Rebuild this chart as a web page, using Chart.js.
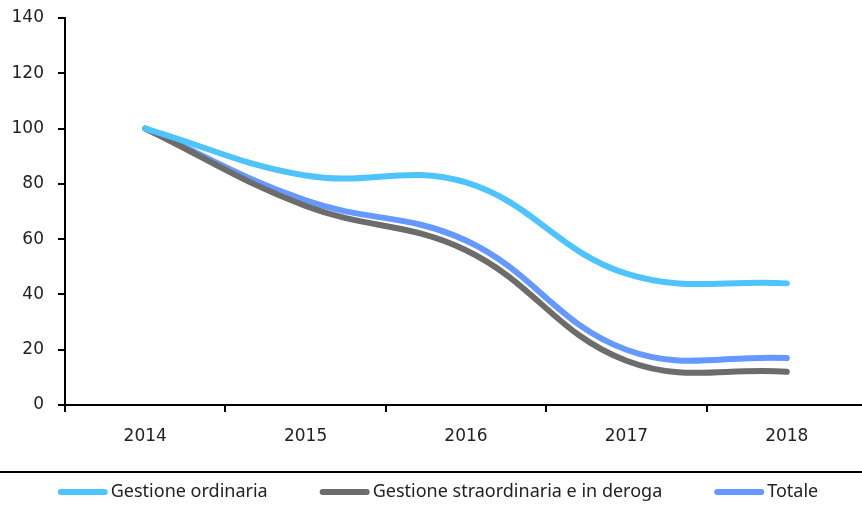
<!DOCTYPE html>
<html>
<head>
<meta charset="utf-8">
<script src="https://cdn.jsdelivr.net/npm/chart.js@4"></script>
<style>
  html, body { margin: 0; padding: 0; background: #fff; overflow: hidden; }
  #wrap { width: 867px; height: 505px; }
</style>
</head>
<body>
<div id="wrap"><canvas id="LineChart"></canvas></div>
<script>
const anni = ['2014', '2015', '2016', '2017', '2018'];
const gestioneOrdinaria = [100, 83, 80.5, 47.5, 44];
const gestioneStraordinaria = [100, 72, 56, 16, 12];
const totale = [100, 74, 59.5, 20, 17];
const yTicks = [0, 20, 40, 60, 80, 100, 120, 140];

// legend under the chart, with a rule above it
const bottomLegend = {
    id: 'bottomLegend',
    afterDraw(chart) {
        const ctx = chart.ctx;
        const w = chart.width;
        ctx.save();
        ctx.strokeStyle = '#000';
        ctx.lineWidth = 2;
        ctx.beginPath();
        ctx.moveTo(0, 472);
        ctx.lineTo(w, 472);
        ctx.stroke();

        ctx.font = '18px "Noto Sans"';
        ctx.textBaseline = 'middle';
        const lineLen = 50, textGap = 3, itemGap = 52, y = 492;
        const items = chart.data.datasets.map(ds => ({
            label: ds.label,
            color: ds.borderColor,
            width: lineLen + textGap + ctx.measureText(ds.label).width
        }));
        const total = items.reduce((s, it) => s + it.width, 0) + itemGap * (items.length - 1);
        let x = 438 - total / 2;
        items.forEach(it => {
            ctx.strokeStyle = it.color;
            ctx.lineWidth = 6;
            ctx.lineCap = 'round';
            ctx.beginPath();
            ctx.moveTo(x + 3, y);
            ctx.lineTo(x + lineLen - 3, y);
            ctx.stroke();
            ctx.fillStyle = '#222';
            ctx.fillText(it.label, x + lineLen + textGap, y);
            x += it.width + itemGap;
        });
        ctx.restore();
    }
};

function serie(label, data, color) {
    return {
        label: label,
        data: data,
        borderColor: color,
        backgroundColor: color,
        borderWidth: 6,
        borderCapStyle: 'round',
        pointRadius: 0,
        tension: 0.4,
        fill: false
    };
}

const config = {
    type: 'line',
    data: {
        labels: anni,
        datasets: [
            serie('Gestione ordinaria', gestioneOrdinaria, '#4fc4fc'),
            serie('Gestione straordinaria e in deroga', gestioneStraordinaria, '#6c6c6c'),
            serie('Totale', totale, '#6699ff')
        ]
    },
    options: {
        responsive: true,
        maintainAspectRatio: false,
        animation: false,
        layout: {
            padding: { top: 18, left: 0, right: 0, bottom: 60 }
        },
        plugins: {
            legend: { display: false },
            tooltip: { enabled: false }
        },
        scales: {
            x: {
                offset: true,
                grid: {
                    offset: true,
                    drawOnChartArea: false,
                    drawTicks: true,
                    tickLength: 7,
                    color: '#000',
                    lineWidth: 2
                },
                border: { display: true, color: '#000', width: 2 },
                ticks: {
                    padding: 14,
                    color: '#222',
                    font: { family: '"DejaVu Sans"', size: 17 },
                    maxRotation: 0
                },
                afterFit(scale) {
                    scale.height = 40;
                    scale.paddingLeft = 0;
                    scale.paddingRight = 0;
                }
            },
            y: {
                min: 0,
                max: 140,
                afterBuildTicks(scale) {
                    scale.ticks = yTicks.map(v => ({ value: v }));
                },
                grid: {
                    drawOnChartArea: false,
                    drawTicks: true,
                    tickLength: 7,
                    color: '#000',
                    lineWidth: 2
                },
                border: { display: true, color: '#000', width: 2 },
                ticks: {
                    padding: 14,
                    color: '#222',
                    font: { family: '"DejaVu Sans"', size: 17 }
                },
                afterFit(scale) {
                    scale.width = 65;
                    scale.paddingTop = 0;
                    scale.paddingBottom = 0;
                }
            }
        }
    },
    plugins: [bottomLegend]
};

new Chart(document.getElementById('LineChart'), config);
</script>
</body>
</html>
